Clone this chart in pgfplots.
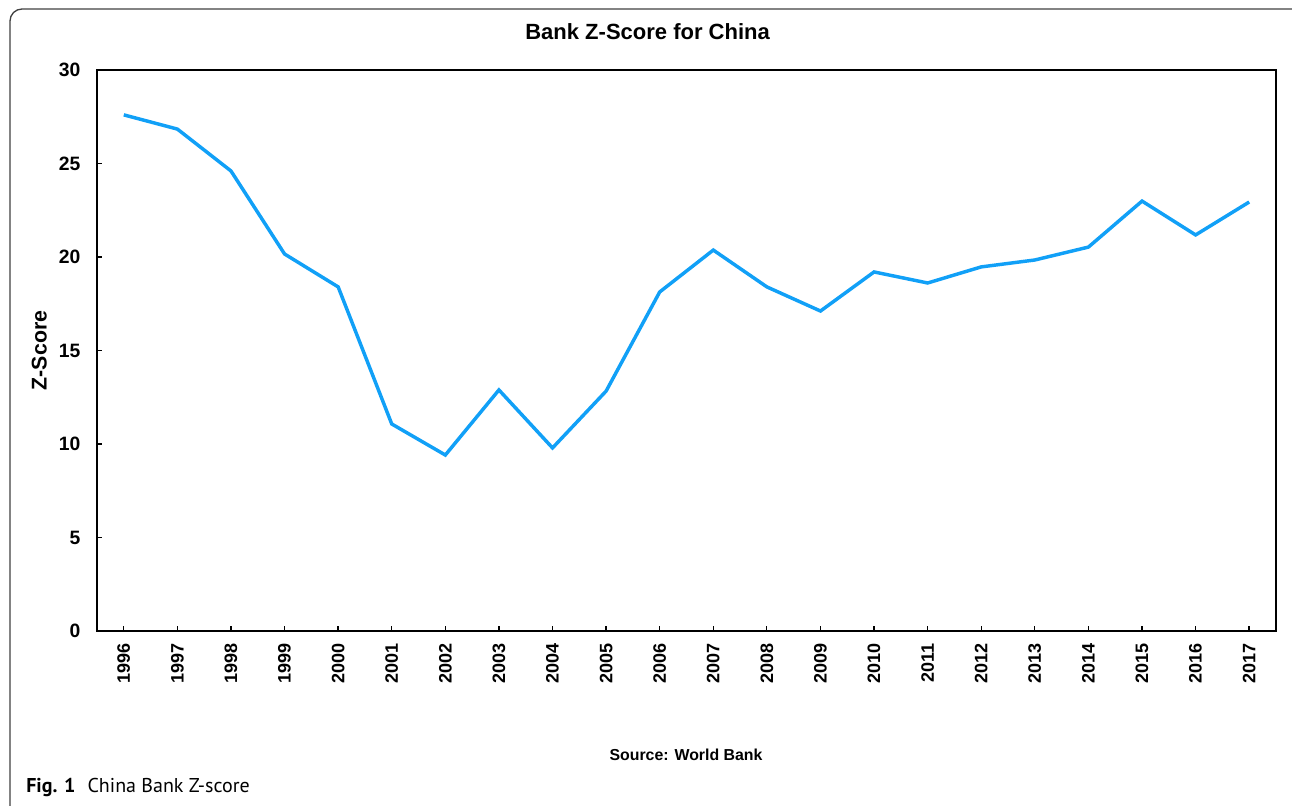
\documentclass[border=0pt]{standalone}
\usepackage{pgfplots}
\pgfplotsset{compat=1.18}
\usepackage{fontspec}
\setmainfont{Liberation Sans}
\newfontfamily\capfont{PT Sans}
\definecolor{zblue}{RGB}{17,160,247}
\pgfplotstableread{
year z
1996 27.60
1997 26.84
1998 24.60
1999 20.16
2000 18.40
2001 11.07
2002 9.41
2003 12.89
2004 9.79
2005 12.83
2006 18.13
2007 20.37
2008 18.40
2009 17.11
2010 19.20
2011 18.61
2012 19.47
2013 19.84
2014 20.53
2015 22.99
2016 21.18
2017 22.94
}\zdata
\begin{document}
\begin{tikzpicture}
\path[use as bounding box] (0pt,0pt) rectangle (969pt,604.5pt);
% outer frame (top and left edges with rounded corners)
\draw[line width=1pt, black!75, rounded corners=9pt] (975pt,597.75pt) -- (7.5pt,597.75pt) -- (7.5pt,-8pt);
\begin{axis}[
  at={(72.75pt,131.25pt)}, anchor=south west,
  scale only axis, width=884.25pt, height=420.75pt,
  xmin=1995.5, xmax=2017.5, ymin=0, ymax=30,
  xtick={1996,...,2017}, ytick={0,5,...,30},
  xticklabel style={rotate=90, anchor=east, font=\bfseries\fontsize{13.5pt}{14pt}\selectfont, /pgf/number format/1000 sep={}},
  yticklabel style={font=\bfseries\fontsize{14.5pt}{15pt}\selectfont},
  /pgf/number format/assume math mode=true,
  /pgf/number format/1000 sep={},
  axis line style={line width=1.5pt},
  tick style={line width=1pt, black},
  major tick length=4pt,
  tick align=inside,
  xtick pos=bottom, ytick pos=left,
  xticklabel shift=6pt,
  yticklabel shift=9pt,
  ylabel={\bfseries\fontsize{16pt}{17pt}\selectfont Z-Score},
  ylabel style={at={(axis description cs:0,0.5)}, anchor=south, yshift=34pt},
  title={\bfseries\fontsize{16.5pt}{18pt}\selectfont Bank Z-Score for China},
  title style={at={(axis description cs:0.467,1)}, anchor=south, yshift=13pt},
]
\addplot[zblue, line width=2.6pt, line join=miter, mark=none] table[x=year,y=z] {\zdata};
\end{axis}
\node[anchor=base, font=\bfseries\fontsize{11.9pt}{13pt}\selectfont] at (514.5pt,33.75pt) {Source: World Bank};
\node[anchor=base west, inner sep=0pt, font=\capfont\fontsize{15pt}{17pt}\selectfont] at (19.5pt,9.75pt) {\textbf{Fig. 1}\hspace{0.6em}China Bank Z-score};
\end{tikzpicture}
\end{document}
